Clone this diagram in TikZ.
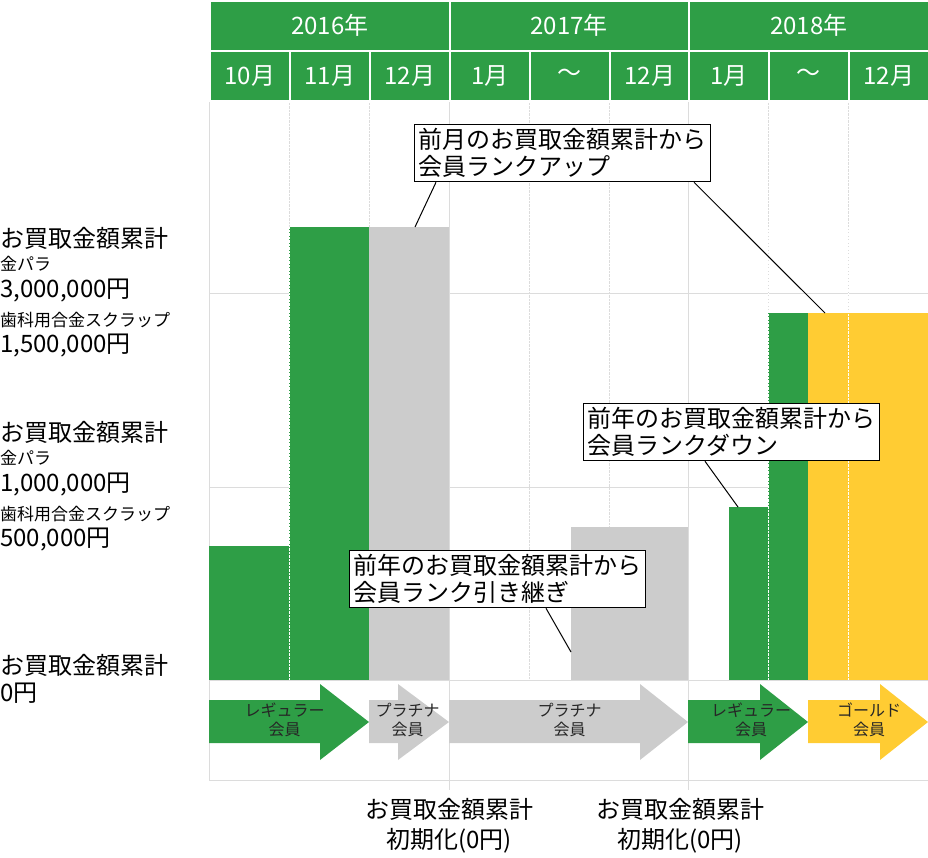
\documentclass[tikz,border=0pt]{standalone}
\usepackage{fontspec}
\setmainfont{Noto Sans CJK JP}
\usetikzlibrary{calc,shapes.arrows}
\definecolor{kgreen}{RGB}{46,158,70}
\definecolor{kgray}{RGB}{204,204,204}
\definecolor{kgold}{RGB}{255,204,51}
\definecolor{kline}{RGB}{220,220,220}
\tikzset{
  hcell/.style={fill=kgreen, draw=white, line width=1.5pt, text=white, font=\fontsize{24}{24}\selectfont},
  callout/.style={draw=black, fill=white, line width=1pt, align=left, inner sep=4pt, font=\fontsize{24}{27}\selectfont},
  arrtxt/.style={align=center, font=\fontsize{16}{19}\selectfont, text=black!85},
  biglbl/.style={anchor=west, align=left, inner sep=0pt, font=\fontsize{24}{26}\selectfont},
  smllbl/.style={anchor=west, align=left, inner sep=0pt, font=\fontsize{17}{19}\selectfont},
}
\newcommand{\kArrow}[5]{% x0, x1, headstart, colour, name
  \fill[#4] (#1,700) -- (#3,700) -- (#3,684) -- (#2,722) -- (#3,760) -- (#3,743) -- (#1,743) -- cycle;
  \coordinate (#5) at ({(#1+#3)/2},722);
}
\begin{document}
\begin{tikzpicture}[x=1pt,y=-1pt]
  \useasboundingbox (0,0) rectangle (928,857);
  % grid
  \draw[kline, line width=1pt] (209,100) -- (209,780) -- (928,780);
  \foreach \y in {293,487,680} \draw[kline, line width=1pt] (209,\y) -- (928,\y);
  \foreach \x in {449,688} \draw[kline, line width=1pt] (\x,100) -- (\x,790);
  \foreach \x in {289,369,529,609,768,848} \draw[kline, densely dotted] (\x,100) -- (\x,680);
  % bars
  \fill[kgreen] (209,546) rectangle (289,680);
  \fill[kgreen] (289,227) rectangle (369,680);
  \fill[kgray] (369,227) rectangle (449,680);
  \fill[kgray] (571,527) rectangle (688,680);
  \fill[kgreen] (729,507) rectangle (768,680);
  \fill[kgreen] (768,313) rectangle (808,680);
  \fill[kgold] (808,313) rectangle (928,680);
  \foreach \x in {289,768,848} \draw[white, densely dotted] (\x,227) -- (\x,680);
  % header
  \foreach \a/\b/\t in {209/449/2016年,449/688/2017年,688/928/2018年}
    \node[hcell, minimum width={\b-\a}, minimum height=50, anchor=north west] (y\t) at (\a,0) {\t};
  \foreach \a/\t [count=\i] in {209/10月,289/11月,369/12月,449/1月,529/～,609/12月,688/1月,768/～,848/12月}
    \node[hcell, minimum width=80, minimum height=50, anchor=north west] (m\i) at (\a,50) {\t};
  % member arrows
  \kArrow{209}{369}{320}{kgreen}{a1}
  \kArrow{369}{449}{398}{kgray}{a2}
  \kArrow{449}{688}{640}{kgray}{a3}
  \kArrow{688}{808}{760}{kgreen}{a4}
  \kArrow{808}{928}{880}{kgold}{a5}
  \node[arrtxt] at ($(a1)+(20,-2)$) {レギュラー\\会員};
  \node[arrtxt] at ($(a2)+(24,-2)$) {プラチナ\\会員};
  \node[arrtxt] at ($(a3)+(25,-2)$) {プラチナ\\会員};
  \node[arrtxt] at ($(a4)+(27,-2)$) {レギュラー\\会員};
  \node[arrtxt] at ($(a5)+(25,-2)$) {ゴールド\\会員};
  % callouts
  \node[callout, anchor=north west] (c1) at (414,124) {前月のお買取金額累計から\\会員ランクアップ};
  \node[callout, anchor=north west] (c2) at (583,403) {前年のお買取金額累計から\\会員ランクダウン};
  \node[callout, anchor=north west] (c3) at (349,550) {前年のお買取金額累計から\\会員ランク引き継ぎ};
  \coordinate (p1) at (415,227);
  \coordinate (p2) at (825,313);
  \coordinate (p3) at (738,507);
  \coordinate (p4) at (571,652);
  \draw[line width=1pt] (c1.south west) ++(22,0) -- (p1);
  \draw[line width=1pt] (c1.south west) ++(280,0) -- (p2);
  \draw[line width=1pt] (c2.south west) ++(122,0) -- (p3);
  \draw[line width=1pt] (c3.south west) ++(197,0) -- (p4);
  % left labels
  \node[biglbl] (l1) at (0,238) {お買取金額累計};
  \node[smllbl] (l2) at (0,264) {金パラ};
  \node[biglbl] (l3) at (0,291) {3,000,000円};
  \node[smllbl] (l4) at (0,320) {歯科用合金スクラップ};
  \node[biglbl] (l5) at (0,346) {1,500,000円};
  \node[biglbl] (l6) at (0,432) {お買取金額累計};
  \node[smllbl] (l7) at (0,458) {金パラ};
  \node[biglbl] (l8) at (0,485) {1,000,000円};
  \node[smllbl] (l9) at (0,514) {歯科用合金スクラップ};
  \node[biglbl] (l10) at (0,540) {500,000円};
  \node[biglbl] (l11) at (0,665) {お買取金額累計};
  \node[biglbl] (l12) at (0,693) {0円};
  % bottom
  \node[align=center, font=\fontsize{24}{30}\selectfont] (r1) at (449,826) {お買取金額累計\\初期化(0円)};
  \node[align=center, font=\fontsize{24}{30}\selectfont] (r2) at (680,826) {お買取金額累計\\初期化(0円)};
\end{tikzpicture}
\end{document}
